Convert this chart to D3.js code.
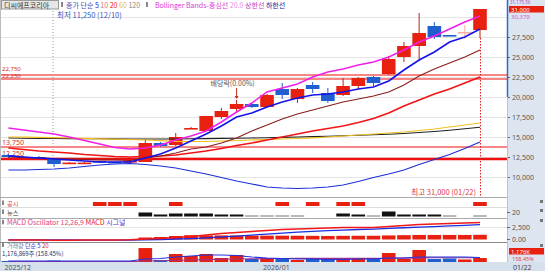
<!DOCTYPE html>
<html><head><meta charset="utf-8">
<script src="https://cdn.jsdelivr.net/npm/d3@7"></script>
<style>
html,body{margin:0;padding:0;background:#fff;}
svg{display:block;font-family:"Noto Sans CJK KR","Noto Sans",sans-serif;}
</style></head><body>
<svg id="c" width="545" height="271"></svg>
<script>
// ---------- data ----------
const dates = ["12/05","12/08","12/09","12/10","12/11","12/12","12/15","12/16","12/17","12/18","12/19","12/22","12/23","12/24","12/26","12/29","12/30","01/02","01/05","01/06","01/07","01/08","01/09","01/12","01/13","01/14","01/15","01/16","01/19","01/20","01/21","01/22"];
const opens  = [12750,12375,12500,12250,11750,11750,12000,11900,11875,11875,14250,14000,16050,15750,17500,18500,19125,18750,21000,19750,21500,20500,20250,21375,22500,22875,25000,26375,28875,27750,28125,28375];
const highs  = [12875,12625,12625,12375,11875,11875,12000,11950,12125,14750,14375,15500,16250,17625,18625,19625,19250,20375,21750,21125,21875,21125,22375,22500,22625,25125,26875,30500,29375,27750,29000,31000];
const lows   = [12375,12250,12250,11250,11625,11625,11750,11800,11750,11875,13750,13875,16000,15750,17250,18000,18625,18750,19750,19250,20500,19250,20125,21000,21375,22750,24375,24500,27250,27625,27250,27375];
const closes = [12500,12500,12375,11625,11800,11800,11800,11850,12000,14250,13875,15000,16125,17625,18250,19125,18750,20250,20250,21000,21000,19500,21375,22375,21750,24750,26375,28000,27500,27625,28125,31000];

const ma5   = [12625,12500,12375,12250,12125,12000,11875,11875,11875,12375,12875,13625,14500,15375,16375,17500,18000,18750,19375,19875,20250,20375,20625,21000,21250,22000,23375,24625,25625,26875,27500,28500];
const ma10  = [12500,12440,12375,12310,12250,12190,12125,12125,12060,12375,12625,13000,13500,13750,14250,14875,15750,16500,17250,17875,18375,18875,19375,19750,20125,20625,21500,22625,23500,24250,25000,25875];
const ma20  = [13625,13440,13250,13125,13000,12810,12690,12560,12500,12560,12625,12750,13000,13250,13560,13940,14250,14625,15000,15375,15750,16060,16375,16810,17310,18000,18875,19625,20375,21000,21750,22500];
const ma60  = [15000,14975,14950,14925,14875,14825,14775,14725,14690,14625,14540,14460,14440,14440,14500,14560,14625,14690,14750,14810,14900,15000,15125,15250,15375,15500,15625,15810,16000,16250,16500,16750];
const ma120 = [14875,14850,14825,14810,14800,14790,14775,14760,14750,14750,14750,14750,14775,14800,14825,14850,14875,14910,14950,15000,15050,15100,15150,15210,15275,15350,15440,15560,15690,15840,16025,16210];
const bbUpper = [16125,15875,15625,15375,15000,14560,14125,13690,13500,13625,14000,14625,15125,15750,16875,18125,19250,20625,21125,21625,22500,23125,23500,24000,24375,25000,25875,26875,27625,28500,29375,30125];
const bbLower = [10875,10875,10940,11000,11125,11310,11500,11625,11690,11560,11375,11125,10750,10375,9940,9500,9125,8750,8625,8560,8625,8750,9000,9440,9940,10375,10875,11560,12190,12810,13560,14375];

const volumes = [300000,250000,280000,420000,250000,220000,280000,240000,300000,4100000,600000,2350000,1760000,2350000,1180000,2060000,880000,1180000,880000,600000,880000,880000,880000,1030000,880000,2640000,880000,3530000,880000,1030000,742738,1176869];
const volMa5  = [294000,294000,294000,294000,294000,294000,294000,294000,294000,882000,1029000,1470000,1764000,2058000,2058000,1911000,1470000,1176000,1029000,882000,882000,735000,735000,882000,882000,1176000,1176000,1470000,1470000,1470000,1470000,1323000];
const volMa20 = [147000,147000,147000,147000,147000,147000,147000,147000,147000,294000,382000,500000,588000,706000,794000,882000,941000,1000000,1029000,1058000,1058000,1058000,1058000,1058000,1058000,1117000,1147000,1205000,1235000,1235000,1235000,1264000];

const macdLine   = [-104,-104,-125,-146,-146,-125,-104,-83,-42,104,208,417,625,938,1250,1458,1667,1875,2083,2188,2292,2396,2500,2500,2500,2708,2917,3125,3229,3333,3438,3542];
const macdSignal = [-60,-70,-80,-95,-105,-110,-115,-110,-100,-60,0,100,200,350,530,720,920,1130,1340,1550,1700,1830,1960,2080,2180,2300,2450,2580,2700,2850,2960,3080];
const macdOsc    = [0,0,0,0,0,0,0,0,0,420,520,730,900,850,850,830,800,800,800,780,760,740,760,780,780,850,900,950,950,950,950,980];

const newsCounts = [0,0,0,0,0,0,0,0,0,20,10,15,15,15,10,10,5,5,5,5,0,0,15,10,5,25,10,10,10,5,0,5];
const disclosureDates = ["12/15","12/16","12/17","12/22","01/05","01/07","01/09","01/12","01/22"];

const priceTicks = [10000,12500,15000,17500,20000,22500,25000,27500];
const gridTicks  = [10000,12500,15000,17500,20000,22500,25000,27500,30000];
const priceLines = [22750,22250,13750,12250];
const priceLineLabels = ["22,750","22,250","13,750","12,250"];
const monthLabels = [{d:"12/05", t:"2025/12"},{d:"01/02", t:"2026/01"}];

// ---------- setup ----------
const svg = d3.select("#c");
const W = 545, H = 271, RX = 507;
const up = "#e8200f", down = "#1f5fcf";
const fmt = d3.format(",");

const x = d3.scalePoint().domain(dates).range([8.4, 480]);
const bw = 13.6;
const y = d3.scaleLinear().domain([7625, 30875]).range([196, 10]);
const yMacd = d3.scaleLinear().domain([0, 2500]).range([239.5, 227.5]);
const yVol = d3.scaleLinear().domain([0, 294000*18]).range([262, 244]);
const yNews = d3.scaleLinear().domain([0, 25]).range([216.5, 211.5]);

const rows = dates.map((d,i)=>({d, o:opens[i], h:highs[i], l:lows[i], c:closes[i], v:volumes[i], n:newsCounts[i], osc:macdOsc[i]}));
const colorOf = r => r.o === r.c ? "#f2b3a6" : (r.c > r.o ? up : down);

// backgrounds
svg.append("rect").attr("width",W).attr("height",H).attr("fill","#fff");
svg.append("rect").attr("x",RX+1).attr("y",0).attr("width",W-RX-1).attr("height",H).attr("fill","#dde6f0");
svg.append("rect").attr("x",0).attr("y",262).attr("width",W).attr("height",9).attr("fill","#d6e0ec");
svg.append("line").attr("x1",0.5).attr("x2",0.5).attr("y1",0).attr("y2",262).attr("stroke","#bbb");

// grid
svg.append("g").selectAll("line").data(gridTicks).join("line")
  .attr("x1",1).attr("x2",RX).attr("y1",d=>Math.round(y(d))+0.5).attr("y2",d=>Math.round(y(d))+0.5)
  .attr("stroke","#e4e4e4");

// right axis
const ax = svg.append("g").attr("transform",`translate(${RX},0)`)
  .call(d3.axisRight(y).tickValues(priceTicks).tickSize(3).tickPadding(2).tickFormat(fmt));
ax.select(".domain").remove();
ax.selectAll("line").attr("stroke","#666");
ax.selectAll("text").attr("font-size","7px").attr("fill","#555").attr("font-family","Noto Sans, sans-serif");

// separators
[[197.5,"#aaa"],[207.5,"#ddd"],[218.5,"#aaa"],[242.5,"#888"]].forEach(([yy,c])=>{
  svg.append("line").attr("x1",0).attr("x2",RX).attr("y1",yy).attr("y2",yy).attr("stroke",c);
});
svg.append("line").attr("x1",RX+0.5).attr("x2",RX+0.5).attr("y1",97).attr("y2",262).attr("stroke","#b8c4d2");
svg.append("line").attr("x1",RX+0.5).attr("x2",RX+0.5).attr("y1",0).attr("y2",97).attr("stroke","#2a6bd0").attr("stroke-width",1.5);

// horizontal price lines
svg.append("g").selectAll("line").data(priceLines).join("line")
  .attr("x1",1).attr("x2",RX).attr("y1",d=>y(d)).attr("y2",d=>y(d))
  .attr("stroke","#f01010").attr("stroke-width",(d,i)=>i===3?2.6:1.2);
const plOffsets = [4.5, 1.5, 2, 3];
svg.append("g").selectAll("text").data(priceLines).join("text")
  .attr("x",2).attr("y",(d,i)=>y(d)-plOffsets[i])
  .attr("font-size",(d,i)=>i<2?"6px":"7px").attr("fill","#d03030").attr("font-family","Noto Sans, sans-serif")
  .text((d,i)=>priceLineLabels[i]);

// low / high dotted lines
const lowIdx = d3.minIndex(lows), highIdx = d3.maxIndex(highs);
svg.append("line").attr("x1",x(dates[lowIdx])-1).attr("x2",x(dates[lowIdx])-1).attr("y1",11).attr("y2",y(highs[lowIdx]))
  .attr("stroke","#999").attr("stroke-dasharray","1,2");
svg.append("line").attr("x1",x(dates[highIdx])+0.5).attr("x2",x(dates[highIdx])+0.5).attr("y1",y(lows[highIdx])).attr("y2",197)
  .attr("stroke","#e02020").attr("stroke-dasharray","1.5,1.5");

// candles
const cg = svg.append("g");
cg.selectAll("line").data(rows).join("line")
  .attr("x1",r=>x(r.d)).attr("x2",r=>x(r.d)).attr("y1",r=>y(r.h)).attr("y2",r=>y(r.l))
  .attr("stroke",r=>r.c>r.o?"#b8241a":colorOf(r)).attr("stroke-width",1);
cg.selectAll("rect").data(rows).join("rect")
  .attr("x",r=>x(r.d)-bw/2).attr("width",bw)
  .attr("y",r=>y(Math.max(r.o,r.c)))
  .attr("height",r=>Math.max(1.6, Math.abs(y(r.o)-y(r.c))))
  .attr("fill",colorOf);

// MA & bollinger lines
const lineGen = arr => d3.line().x((d,i)=>x(dates[i])).y(d=>y(d))(arr);
[[ma120,"#222",1.1],[ma60,"#f0c020",1.2],[bbLower,"#1d2fd8",1.2],[ma20,"#f01414",1.6],[ma10,"#8a1c1c",1.1],[bbUpper,"#f020e8",1.5],[ma5,"#1414e6",1.6]]
 .forEach(([arr,c,w])=>svg.append("path").attr("d",lineGen(arr)).attr("fill","none").attr("stroke",c).attr("stroke-width",w));

// ex-dividend marker
const exd = "12/29";
const exRow = rows.find(r=>r.d===exd);
svg.append("text").attr("x",x(exd)-4).attr("y",86).attr("text-anchor","middle").attr("font-size","7px").attr("fill","#555").text("배당락(0.00%)");
svg.append("line").attr("x1",x(exd)).attr("x2",x(exd)).attr("y1",88).attr("y2",y(exRow.h)-3).attr("stroke","#c03020");
svg.append("path").attr("d",`M${x(exd)-2},${y(exRow.h)-4}L${x(exd)+2},${y(exRow.h)-4}L${x(exd)},${y(exRow.h)-1}Z`).attr("fill","#c03020");

// low/high labels
svg.append("text").attr("x",x(dates[lowIdx])+3).attr("y",18).attr("font-size","7.5px").attr("fill","#3a55b8")
  .text(`최저 ${fmt(lows[lowIdx])} (${dates[lowIdx]})`);
svg.append("text").attr("x",x(dates[highIdx])-4).attr("y",195).attr("text-anchor","end").attr("font-size","7.5px").attr("fill","#e03838")
  .text(`최고 ${fmt(highs[highIdx])} (${dates[highIdx]})`);

// 공시 row
svg.append("g").selectAll("rect").data(disclosureDates).join("rect")
  .attr("x",d=>x(d)-bw/2).attr("width",bw).attr("y",202).attr("height",4).attr("fill",up);
// 뉴스 row
svg.append("g").selectAll("rect").data(rows.filter(r=>r.n>0)).join("rect")
  .attr("x",r=>x(r.d)-bw/2).attr("width",bw).attr("y",r=>yNews(r.n)).attr("height",r=>yNews(0)-yNews(r.n))
  .attr("fill",r=>r.n<=5?"#777":"#111");

// MACD
svg.append("line").attr("x1",1).attr("x2",RX).attr("y1",227.5).attr("y2",227.5).attr("stroke","#e4e4e4");
svg.append("g").selectAll("rect").data(rows.filter(r=>r.osc>0)).join("rect")
  .attr("x",r=>x(r.d)-bw/2).attr("width",bw).attr("y",r=>yMacd(r.osc)).attr("height",r=>yMacd(0)-yMacd(r.osc))
  .attr("fill",up);
const mline = arr => d3.line().x((d,i)=>x(dates[i])).y(d=>yMacd(d))(arr);
svg.append("path").attr("d",mline(macdSignal)).attr("fill","none").attr("stroke","#1a2ee0").attr("stroke-width",1.3);
svg.append("path").attr("d",mline(macdLine)).attr("fill","none").attr("stroke","#f01818").attr("stroke-width",1.5);

// Volume
svg.append("g").selectAll("rect").data(rows).join("rect")
  .attr("x",r=>x(r.d)-bw/2).attr("width",bw).attr("y",r=>yVol(r.v)).attr("height",r=>yVol(0)-yVol(r.v))
  .attr("fill",r=>r.c>=r.o?up:down);
const vline = arr => d3.line().x((d,i)=>x(dates[i])).y(d=>yVol(d))(arr);
svg.append("path").attr("d",vline(volMa20)).attr("fill","none").attr("stroke","#a0308a").attr("stroke-width",1.1);
svg.append("path").attr("d",vline(volMa5)).attr("fill","none").attr("stroke","#2233e0").attr("stroke-width",1.1);

// panel labels
function label(yy, parts, fs){
  svg.append("rect").attr("x",2).attr("y",yy-5).attr("width",2).attr("height",4.5).attr("fill","#888");
  const t = svg.append("text").attr("x",7).attr("y",yy).attr("font-size",(fs||7)+"px");
  parts.forEach(([s,c],i)=>t.append("tspan").attr("fill",c).text((i?" ":"")+s));
}
label(205.5, [["공시","#e04848"]], 6.2);
label(214.5, [["뉴스","#333"]], 6.2);
label(224.8, [["MACD Oscillator 12,26,9","#e0407a"],["MACD","#e02020"],["시그널","#5a3ad0"]], 7);
label(247.5, [["거래량","#6688aa"],["단순","#3a4ad0"],["5","#2233e0"],["20","#e02020"]], 6);
svg.append("text").attr("x",2).attr("y",255.8).attr("font-size","6px").attr("fill","#223366")
  .text(`${fmt(volumes[volumes.length-1])}주 (158.45%)`);

// top toolbar
svg.append("rect").attr("x",1.5).attr("y",0.5).attr("width",57).attr("height",8.5).attr("fill","#e6e6e6").attr("stroke","#999");
svg.append("text").attr("x",4).attr("y",7.5).attr("font-size","7px").attr("fill","#333").text("디씨에프코리아");
svg.append("rect").attr("x",61).attr("y",2).attr("width",2).attr("height",5).attr("fill","#888");
const lg = svg.append("text").attr("x",66).attr("y",7.8).attr("font-size","7px");
[["종가 단순","#4a4ab8"],["5","#1414e6"],["10","#e07070"],["20","#f01414"],["60","#e8c020"],["120","#888"]]
  .forEach(([s,c],i)=>lg.append("tspan").attr("fill",c).text((i?" ":"")+s));
svg.append("rect").attr("x",146).attr("y",2).attr("width",2).attr("height",5).attr("fill","#888");
const lg2 = svg.append("text").attr("x",155).attr("y",7.8).attr("font-size","7px");
[["Bollinger Bands-중심선","#d838d8"],["20.0","#e890e0"],["상한선","#c040c0"],["하한선","#2020a0"]]
  .forEach(([s,c],i)=>lg2.append("tspan").attr("fill",c).text((i?" ":"")+s));

// right strip top labels
const last = rows[rows.length-1];
svg.append("text").attr("x",510).attr("y",4).attr("font-size","4.5px").attr("fill","#b050b0").attr("font-family","Noto Sans, sans-serif").text("31,175.56");
svg.append("rect").attr("x",509).attr("y",6).attr("width",35).attr("height",6.5).attr("fill",up);
svg.append("text").attr("x",511).attr("y",11.5).attr("font-size","6px").attr("fill","#fff").attr("font-family","Noto Sans, sans-serif").text(fmt(last.c));
svg.append("text").attr("x",511).attr("y",19).attr("font-size","6px").attr("fill","#d060d0").attr("font-family","Noto Sans, sans-serif").text("30,379");

// panel right labels
const rl = (yy,t,c,fs)=>svg.append("text").attr("x",512).attr("y",yy).attr("font-size",(fs||7)+"px").attr("fill",c).attr("font-family","Noto Sans, sans-serif").text(t);
svg.append("line").attr("x1",RX).attr("x2",RX+3).attr("y1",yNews(20)).attr("y2",yNews(20)).attr("stroke","#666");
rl(yNews(20)+2.5,"20","#555");
svg.append("line").attr("x1",RX).attr("x2",RX+3).attr("y1",yMacd(2500)).attr("y2",yMacd(2500)).attr("stroke","#666");
rl(yMacd(2500)+2.5,"2,500","#555");
svg.append("line").attr("x1",RX).attr("x2",RX+3).attr("y1",yMacd(0)).attr("y2",yMacd(0)).attr("stroke","#666");
rl(yMacd(0)+2.5,"0.00","#555");
svg.append("rect").attr("x",509).attr("y",248).attr("width",35).attr("height",6.5).attr("fill",up);
svg.append("text").attr("x",511).attr("y",253.5).attr("font-size","6px").attr("fill","#fff").attr("font-family","Noto Sans, sans-serif").text("1,176K");
rl(261.3,"158.45%","#e04050",5.5);
[200,209,219,244].forEach(yy=>svg.append("rect").attr("x",540).attr("y",yy).attr("width",3).attr("height",3).attr("fill","#777"));

// date axis
svg.append("g").selectAll("text").data(monthLabels).join("text")
  .attr("x",d=>Math.max(2, x(d.d)-4)).attr("y",269.5).attr("font-size","7px").attr("fill","#555").attr("font-family","Noto Sans, sans-serif")
  .text(d=>d.t);
svg.append("text").attr("x",513).attr("y",269.5).attr("font-size","7px").attr("fill","#444").attr("font-family","Noto Sans, sans-serif").text(dates[dates.length-1]);
</script>
</body></html>
